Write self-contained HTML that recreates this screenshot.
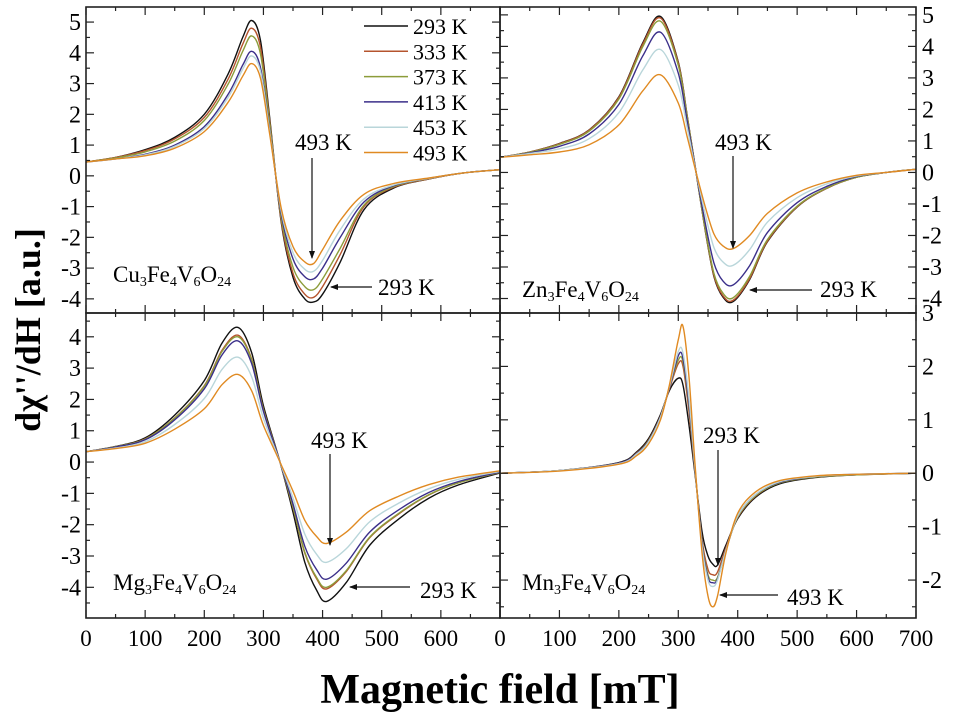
<!DOCTYPE html>
<html><head><meta charset="utf-8"><style>
body{margin:0;background:#fff}
svg{display:block;font-family:"Liberation Serif",serif}
svg text{font-family:"Liberation Serif",serif}
</style></head><body>
<svg id="chart" width="961" height="720" viewBox="0 0 961 720" xmlns="http://www.w3.org/2000/svg" font-family="Liberation Serif, serif">
<g id="plots"></g>
<text x="0" y="0" transform="translate(40,330) rotate(-90)" text-anchor="middle" font-size="36" font-weight="bold" font-family="Liberation Serif, serif">dχ''/dH [a.u.]</text>
<text x="500" y="703" text-anchor="middle" font-size="42" font-weight="bold" font-family="Liberation Serif, serif">Magnetic field [mT]</text>
</svg>
<script>
const temps = ["293 K","333 K","373 K","413 K","453 K","493 K"];
const colors = ["#111111","#b5542e","#8c9c3a","#3b2f8a","#b9d6da","#e08a22"];
const cuField = [0,50,100,150,200,240,265,280,295,310,330,350,370,385,400,430,470,520,580,640,700];
const cu293 = [0.45,0.6,0.85,1.25,2.0,3.3,4.5,5.05,4.4,2.0,-1.5,-3.3,-4.0,-4.1,-3.85,-2.8,-1.1,-0.4,-0.1,0.1,0.2];
const cu333 = [0.45,0.6,0.82,1.2,1.9,3.13,4.28,4.8,4.18,1.9,-1.45,-3.17,-3.85,-3.95,-3.6,-2.55,-1.0,-0.37,-0.1,0.1,0.2];
const cu373 = [0.45,0.58,0.78,1.13,1.8,2.97,4.05,4.55,3.96,1.8,-1.35,-2.97,-3.6,-3.7,-3.35,-2.35,-0.95,-0.35,-0.09,0.1,0.2];
const cu413 = [0.45,0.55,0.7,1.0,1.6,2.64,3.6,4.05,3.52,1.6,-1.23,-2.7,-3.28,-3.35,-3.0,-2.0,-0.85,-0.32,-0.08,0.1,0.2];
const cu453 = [0.45,0.55,0.68,0.96,1.54,2.54,3.47,3.9,3.4,1.54,-1.14,-2.5,-3.04,-3.1,-2.75,-1.75,-0.75,-0.3,-0.08,0.1,0.2];
const cu493 = [0.45,0.55,0.65,0.9,1.44,2.38,3.24,3.65,3.17,1.44,-1.05,-2.3,-2.8,-2.85,-2.4,-1.45,-0.6,-0.25,-0.07,0.1,0.2];
const znField = [0,50,100,150,200,240,270,300,315,330,345,360,375,392,420,450,500,550,600,650,700];
const zn293 = [0.48,0.65,0.92,1.35,2.4,4.1,4.95,3.5,1.8,0,-1.8,-3.3,-3.95,-4.1,-3.4,-2.2,-1.1,-0.5,-0.15,0.0,0.1];
const zn333 = [0.48,0.65,0.91,1.34,2.38,4.06,4.9,3.47,1.78,0,-1.78,-3.27,-3.91,-4.06,-3.37,-2.18,-1.09,-0.5,-0.15,0,0.1];
const zn373 = [0.48,0.64,0.89,1.31,2.33,3.98,4.8,3.4,1.75,0,-1.75,-3.2,-3.83,-3.98,-3.3,-2.13,-1.07,-0.49,-0.15,0,0.1];
const zn413 = [0.48,0.62,0.83,1.22,2.16,3.69,4.45,3.15,1.62,0,-1.57,-2.87,-3.44,-3.57,-2.96,-1.91,-0.96,-0.44,-0.13,0,0.1];
const zn453 = [0.48,0.6,0.75,1.07,1.9,3.24,3.9,2.77,1.42,0,-1.3,-2.38,-2.84,-2.95,-2.45,-1.58,-0.8,-0.36,-0.11,0,0.1];
const zn493 = [0.48,0.56,0.65,0.88,1.51,2.58,3.1,2.2,1.13,0,-1.06,-1.95,-2.33,-2.42,-2.0,-1.3,-0.65,-0.3,-0.09,0,0.1];
const mgField = [0,50,100,150,200,230,257,280,300,328,350,370,390,407,440,480,530,580,630,700];
const mg293 = [0.33,0.5,0.77,1.5,2.6,3.8,4.3,3.5,1.8,0,-1.6,-3.2,-4.1,-4.45,-3.85,-2.65,-1.8,-1.15,-0.73,-0.35];
const mg333 = [0.33,0.49,0.74,1.41,2.44,3.57,4.05,3.29,1.69,0,-1.46,-2.91,-3.73,-4.05,-3.5,-2.41,-1.64,-1.05,-0.66,-0.33];
const mg373 = [0.33,0.49,0.73,1.4,2.42,3.53,4.0,3.26,1.67,0,-1.44,-2.88,-3.69,-4.0,-3.47,-2.39,-1.62,-1.04,-0.66,-0.33];
const mg413 = [0.33,0.48,0.71,1.35,2.34,3.42,3.87,3.15,1.62,0,-1.34,-2.69,-3.44,-3.74,-3.23,-2.23,-1.51,-0.97,-0.62,-0.32];
const mg453 = [0.33,0.45,0.65,1.2,2.03,2.96,3.35,2.73,1.4,0,-1.15,-2.3,-2.95,-3.2,-2.77,-1.9,-1.3,-0.85,-0.55,-0.3];
const mg493 = [0.33,0.43,0.6,1.05,1.7,2.47,2.8,2.28,1.17,0,-0.93,-1.86,-2.38,-2.6,-2.24,-1.55,-1.08,-0.72,-0.48,-0.28];
const mnField = [0,100,200,230,250,270,285,300,308,318,328,340,350,358,366,380,400,430,470,530,600,700];
const mn293 = [0,0.05,0.2,0.4,0.65,1.1,1.55,1.78,1.65,0.9,0,-1.1,-1.55,-1.7,-1.72,-1.35,-0.85,-0.45,-0.2,-0.08,-0.03,0];
const mn333 = [0,0.05,0.19,0.38,0.62,1.07,1.58,2.05,2.0,1.15,0.05,-1.25,-1.8,-1.9,-1.85,-1.4,-0.83,-0.43,-0.18,-0.07,-0.03,0];
const mn373 = [0,0.05,0.19,0.37,0.61,1.06,1.6,2.12,2.08,1.25,0.08,-1.3,-1.9,-2.0,-1.95,-1.45,-0.82,-0.42,-0.18,-0.07,-0.03,0];
const mn413 = [0,0.05,0.19,0.37,0.6,1.06,1.6,2.2,2.15,1.3,0.1,-1.33,-1.95,-2.05,-1.98,-1.45,-0.8,-0.4,-0.17,-0.06,-0.02,0];
const mn453 = [0,0.05,0.18,0.36,0.59,1.05,1.62,2.28,2.25,1.4,0.12,-1.38,-2.0,-2.12,-2.0,-1.45,-0.8,-0.4,-0.16,-0.06,-0.02,0];
const mn493 = [0,0.04,0.17,0.33,0.55,1.0,1.65,2.5,2.75,1.8,0.2,-1.5,-2.3,-2.5,-2.3,-1.5,-0.75,-0.35,-0.14,-0.05,-0.02,0];
const xTicks = [0,100,200,300,400,500,600,700];
const yTicksBig = [5,4,3,2,1,0,-1,-2,-3,-4];
const yTicksMg = [4,3,2,1,0,-1,-2,-3,-4];
const yTicksMn = [3,2,1,0,-1,-2];

const NS="http://www.w3.org/2000/svg";
const root=document.getElementById('plots');
function mk(tag,attrs,parent){const e=document.createElementNS(NS,tag);for(const k in attrs)e.setAttribute(k,attrs[k]);if(tag==='text')e.setAttribute('font-family','Liberation Serif, serif');(parent||root).appendChild(e);return e;}

const panels=[
 {name:'cu',x0:86,x1:500,y0:7,y1:313,ymax:5.49,ymin:-4.46,field:cuField,series:[cu293,cu333,cu373,cu413,cu453,cu493],ticks:yTicksBig,side:'left',xlabels:false,formula:['Cu','3','Fe','4','V','6','O','24'],fx:113,fy:282},
 {name:'zn',x0:500,x1:916,y0:7,y1:313,ymax:5.25,ymin:-4.46,field:znField,series:[zn293,zn333,zn373,zn413,zn453,zn493],ticks:yTicksBig,side:'right',xlabels:false,formula:['Zn','3','Fe','4','V','6','O','24'],fx:522,fy:297},
 {name:'mg',x0:86,x1:500,y0:313,y1:618,ymax:4.76,ymin:-4.98,field:mgField,series:[mg293,mg333,mg373,mg413,mg453,mg493],ticks:yTicksMg,side:'left',xlabels:true,formula:['Mg','3','Fe','4','V','6','O','24'],fx:113,fy:590},
 {name:'mn',x0:500,x1:916,y0:313,y1:618,ymax:3.0,ymin:-2.71,field:mnField,series:[mn293,mn333,mn373,mn413,mn453,mn493],ticks:yTicksMn,side:'right',xlabels:true,formula:['Mn','3','Fe','4','V','6','O','24'],fx:522,fy:590}
];

function smoothPath(pts){
 let d='M'+pts[0][0].toFixed(1)+','+pts[0][1].toFixed(1);
 for(let i=0;i<pts.length-1;i++){
  const p0=pts[Math.max(0,i-1)],p1=pts[i],p2=pts[i+1],p3=pts[Math.min(pts.length-1,i+2)];
  const c1x=p1[0]+(p2[0]-p0[0])/6,c1y=p1[1]+(p2[1]-p0[1])/6;
  const c2x=p2[0]-(p3[0]-p1[0])/6,c2y=p2[1]-(p3[1]-p1[1])/6;
  d+=' C'+c1x.toFixed(1)+','+c1y.toFixed(1)+' '+c2x.toFixed(1)+','+c2y.toFixed(1)+' '+p2[0].toFixed(1)+','+p2[1].toFixed(1);
 }
 return d;
}

panels.forEach(p=>{
 const g=mk('g',{});
 
 
 const sx=v=>p.x0+(v/700)*(p.x1-p.x0);
 const sy=v=>p.y0+(p.ymax-v)/(p.ymax-p.ymin)*(p.y1-p.y0);
 p.series.forEach((s,i)=>{
  const pts=p.field.map((f,j)=>[sx(f),sy(s[j])]);
  const path=mk('path',{d:smoothPath(pts),fill:'none',stroke:colors[i],'stroke-width':1.4},g);
  
  
 });
 const fr=mk('rect',{x:p.x0,y:p.y0,width:p.x1-p.x0,height:p.y1-p.y0,fill:'none',stroke:'#222','stroke-width':1.6},g);
 
 
 for(let v=0;v<=700;v+=50){
  const x=sx(v),len=v%100===0?8:4;
  mk('line',{x1:x,x2:x,y1:p.y1,y2:p.y1-len,stroke:'#222','stroke-width':1.2},g);
  mk('line',{x1:x,x2:x,y1:p.y0,y2:p.y0+len,stroke:'#222','stroke-width':1.2},g);
 }
 if(p.xlabels){
  xTicks.forEach(v=>{
   if(p.name==='mg'&&v===700)return;
   const t=mk('text',{x:sx(v),y:646,'text-anchor':'middle','font-size':23},g);
   t.textContent=v;
   
   
  });
 }
 const lo=Math.ceil(p.ymin*2)/2;
 for(let v=lo;v<=p.ymax;v+=0.5){
  const y=sy(v),len=Math.abs(v%1)<1e-6?8:4;
  mk('line',{x1:p.x0,x2:p.x0+len,y1:y,y2:y,stroke:'#222','stroke-width':1.2},g);
  mk('line',{x1:p.x1,x2:p.x1-len,y1:y,y2:y,stroke:'#222','stroke-width':1.2},g);
 }
 p.ticks.forEach(v=>{
  const t=mk('text',{x:p.side==='left'?p.x0-5:p.x1+6,y:sy(v)+8,'text-anchor':p.side==='left'?'end':'start','font-size':24},g);
  t.textContent=(v<0?'-':'')+Math.abs(v);
  
  
 });
 const ft=mk('text',{x:p.fx,y:p.fy,'font-size':23},g);
 
 
 p.formula.forEach((s,k)=>{
  const ts=mk('tspan',{},ft);
  if(k%2===1){ts.setAttribute('font-size','14');ts.setAttribute('dy','4');}
  else if(k>0){ts.setAttribute('dy','-4');}
  ts.textContent=s;
 });
});

const ann=[
 {t:'493 K',tx:295,ty:150,a:[312,158,312,258]},
 {t:'293 K',tx:378,ty:295,a:[372,287,331,287]},
 {t:'493 K',tx:715,ty:150,a:[733,156,733,248]},
 {t:'293 K',tx:820,ty:297,a:[812,290,750,290]},
 {t:'493 K',tx:311,ty:448,a:[330,454,330,545]},
 {t:'293 K',tx:420,ty:598,a:[410,587,350,587]},
 {t:'293 K',tx:703,ty:443,a:[718,450,718,565]},
 {t:'493 K',tx:787,ty:605,a:[778,595,720,595]}
];
mk('defs',{}).innerHTML='<marker id="ah" markerWidth="8" markerHeight="8" refX="7" refY="4" orient="auto" markerUnits="userSpaceOnUse"><path d="M0,1 L8,4 L0,7 Z" fill="#111"/></marker>';
ann.forEach(a=>{
 const t=mk('text',{x:a.tx,y:a.ty,'font-size':23});
 t.textContent=a.t;
 
 
 const l=mk('line',{x1:a.a[0],y1:a.a[1],x2:a.a[2],y2:a.a[3],stroke:'#111','stroke-width':1.2,'marker-end':'url(#ah)'});
 
 
});

const lg=mk('g',{});


temps.forEach((tt,i)=>{
 const y=26+i*25.3;
 const ln=mk('line',{x1:364,x2:408,y1:y,y2:y,stroke:colors[i],'stroke-width':1.5},lg);
 
 
 const t=mk('text',{x:413,y:y+8,'font-size':22},lg);
 t.textContent=tt;
 
 
});
</script>
</body></html>
